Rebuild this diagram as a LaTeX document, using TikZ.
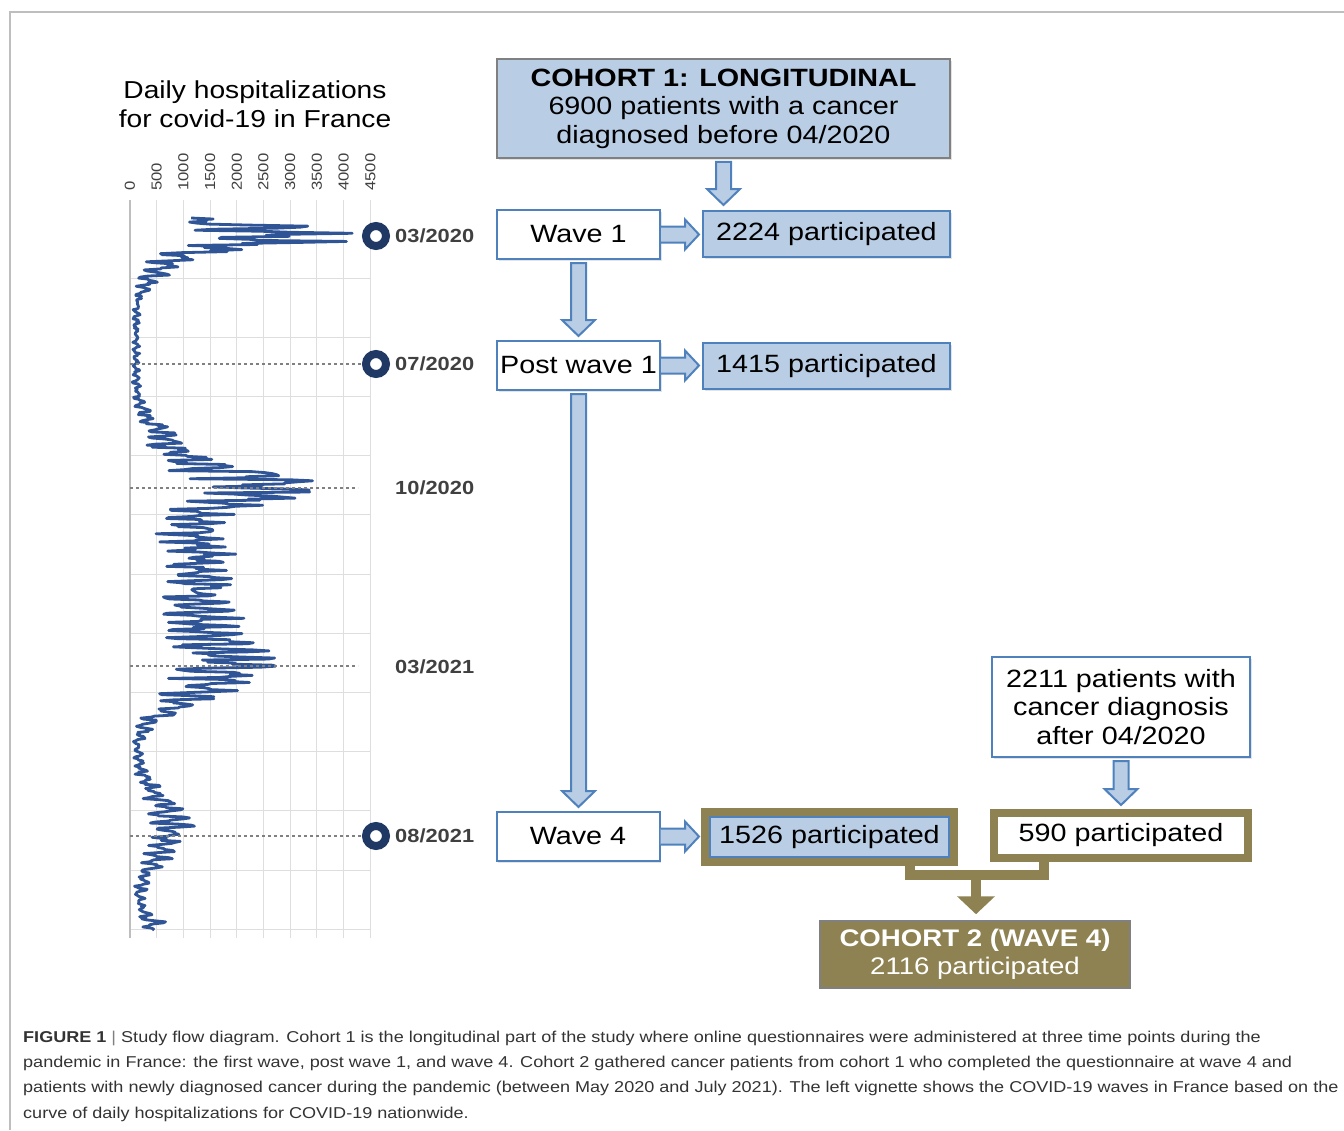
\documentclass[tikz,border=0pt]{standalone}
\usepackage{fontspec}
\setmainfont{Liberation Sans}
\newfontfamily\widesans[FakeStretch=1.15]{Liberation Sans}
\usetikzlibrary{arrows.meta, positioning, calc, shadows}
\definecolor{boxfill}{RGB}{185,205,229}
\definecolor{boxblue}{RGB}{79,129,189}
\definecolor{cohortolive}{RGB}{142,130,82}
\definecolor{ringnavy}{RGB}{31,56,100}
\definecolor{curveblue}{RGB}{47,85,151}
\definecolor{gridgray}{RGB}{222,222,222}
\definecolor{datagray}{RGB}{64,64,64}
\definecolor{capgray}{RGB}{51,51,51}
\definecolor{framegray}{RGB}{190,190,190}

\tikzset{
  softshadow/.style={drop shadow={shadow xshift=1.5pt, shadow yshift=-2pt, opacity=0.22}},
  boxtext/.style={font=\widesans\fontsize{25}{28.5}\selectfont, align=center, inner sep=0pt},
  wavebox/.style={boxtext, draw=boxblue, line width=2pt, fill=white, minimum width=163pt, minimum height=49pt, softshadow},
  countbox/.style={boxtext, draw=boxblue, line width=2pt, fill=boxfill, minimum width=247pt, minimum height=46pt},
  blockarrow/.style={fill=boxfill, draw=boxblue, line width=2pt, line join=miter},
  olivebar/.style={draw=cohortolive, line width=10pt, line join=miter},
  ring/.style={circle, draw=ringnavy, line width=8pt, fill=white, minimum size=20pt, inner sep=0pt, softshadow},
  datelabel/.style={font=\widesans\fontsize{19}{19}\selectfont\bfseries, text=datagray, inner sep=0pt, anchor=west},
  datedash/.style={draw=gray, dashed, line width=1.3pt},
  gridline/.style={draw=gridgray, line width=1pt},
  curveline/.style={draw=curveblue, line width=2.8pt, line join=round},
}

% vertical block arrow between two nodes
\newcommand{\downblock}[2]{%
  \path ($(#1.south)+(0,3)$) coordinate (bs) ($(bs |- #2.north)+(0,-4)$) coordinate (bt);
  \draw[blockarrow] ($(bs)+(-7.5,0)$) -- ($(bt)+(-7.5,-16)$) -- ($(bt)+(-16.5,-16)$) -- (bt)
    -- ($(bt)+(16.5,-16)$) -- ($(bt)+(7.5,-16)$) -- ($(bs)+(7.5,0)$) -- cycle;}
% horizontal block arrow, #3 = gap before the target
\newcommand{\rightblock}[3]{%
  \path (#1.east) coordinate (bs) ($(bs -| #2.west)+(-#3,0)$) coordinate (bt);
  \filldraw[blockarrow] ($(bs)+(0,-8)$) -- ($(bt)+(-14,-8)$) -- ($(bt)+(-14,-15)$) -- (bt)
    -- ($(bt)+(-14,15)$) -- ($(bt)+(-14,8)$) -- ($(bs)+(0,8)$);}

\begin{document}
\begin{tikzpicture}[x=1pt, y=-1pt,
  declare function={
    g(\x,\c,\w)=exp(-min(((\x-\c)/\w)*((\x-\c)/\w),9));
    u(\x)=(\x-600)/115;
    pl(\x)=exp(-min(u(\x)*u(\x)*u(\x)*u(\x)*u(\x)*u(\x),9));
    hosp(\x)=6 + ((\x<236) ? 140*g(\x,236,18) : 95*g(\x,236,10)+68*g(\x,236,35))
      + ((\x<487) ? 110*g(\x,487,22) : 110*g(\x,487,16)) + 30*g(\x,450,35)
      + 62*pl(\x) + 35*g(\x,665,28)
      + ((\x<825) ? 36*g(\x,825,40) : 36*g(\x,825,45)) + 16*g(\x,925,15);
  }]
  \useasboundingbox (0,0) rectangle (1344,1130);

  % outer frame
  \draw[framegray, line width=1.2pt] (10,1130) -- (10,12) -- (1344,12);

  % hospitalization chart
  \node[font=\widesans\fontsize{24.5}{28.5}\selectfont, align=center, inner sep=0pt] (charttitle) at (255,104)
    {Daily hospitalizations\\for covid-19 in France};
  \foreach \k in {1,...,9}
    \draw[gridline] ({130+26.7*\k},200) -- ({130+26.7*\k},938);
  \foreach \k in {0,...,11}
    \draw[gridline] (130,{278+59.2*\k}) -- (370,{278+59.2*\k});
  \draw[framegray, line width=1.5pt] (130,200) -- (130,938);
  \foreach \v [count=\k from 0] in {0,500,...,4500}
    \node[rotate=90, anchor=west, inner sep=0pt, text=datagray,
      font=\widesans\fontsize{14.5}{14.5}\selectfont] (tick\k) at ({130+26.7*\k},191) {\v};

  \pgfmathsetseed{2020}
  \draw[curveline] plot[domain=218:930, samples=700, variable=\t]
    ({130+max(1,hosp(\t)*(1+0.35*sin(45*mod(\t,8))+0.3*rand))}, \t);

  % dates
  \node[ring] (m0320) at (376,236) {};
  \node[ring] (m0720) at (376,364) {};
  \node[ring] (m0821) at (376,836) {};
  \coordinate (e1020) at (358,488);
  \coordinate (e0321) at (358,666);
  \draw[datedash] (130,364) -- (m0720.west);
  \draw[datedash] (130,488) -- (e1020);
  \draw[datedash] (130,666) -- (e0321);
  \draw[datedash] (130,836) -- (m0821.west);
  \node[datelabel, right=5pt of m0320] (d0320) {03/2020};
  \node[datelabel, right=5pt of m0720] (d0720) {07/2020};
  \node[datelabel] (d1020) at (395,488) {10/2020};
  \node[datelabel] (d0321) at (395,667) {03/2021};
  \node[datelabel, right=5pt of m0821] (d0821) {08/2021};

  % cohort 1
  \node[boxtext, draw=gray, line width=1.5pt, fill=boxfill, minimum width=453pt, minimum height=99pt, softshadow]
    (cohort1) at (723.5,108.5) {{\bfseries COHORT 1: LONGITUDINAL}\\6900 patients with a cancer\\diagnosed before 04/2020};
  \node[wavebox] (wave1) at (578.5,234.5) {Wave 1};
  \node[countbox, softshadow] (p2224) at (826.5,234) {2224 participated};
  \node[wavebox] (post1) at (578.5,365.5) {Post wave 1};
  \node[countbox, softshadow] (p1415) at (826.5,366) {1415 participated};
  \node[wavebox] (wave4) at (578,836.5) {Wave 4};
  \node[countbox, minimum width=239pt, minimum height=40pt] (p1526) at (829.5,837) {1526 participated};
  \draw[cohortolive, line width=8pt] ([shift={(-4,-4)}]p1526.north west) rectangle ([shift={(4,4)}]p1526.south east);

  % cohort 2
  \node[boxtext, draw=boxblue, line width=2pt, fill=white, minimum width=258pt, minimum height=100pt, softshadow]
    (new2211) at (1121,707) {2211 patients with\\cancer diagnosis\\after 04/2020};
  \node[boxtext, draw=cohortolive, line width=8pt, fill=white, minimum width=254pt, minimum height=45pt]
    (p590) at (1121,835.5) {590 participated};
  \node[boxtext, font=\widesans\fontsize{24}{28}\selectfont, text=white, draw=gray, line width=1.5pt, fill=cohortolive,
    minimum width=310pt, minimum height=67pt] (cohort2) at (975,954.5) {{\bfseries COHORT 2 (WAVE 4)}\\2116 participated};

  % arrows
  \downblock{cohort1}{wave1}
  \downblock{wave1}{post1}
  \downblock{post1}{wave4}
  \downblock{new2211}{p590}
  \rightblock{wave1}{p2224}{3}
  \rightblock{post1}{p1415}{3}
  \rightblock{wave4}{p1526}{10}
  \coordinate (join) at (976,875);
  \draw[olivebar] ([xshift=80.5]p1526.south) |- (join) -| ([xshift=-77]p590.south);
  \draw[olivebar, -{Triangle[width=37pt, length=18pt]}, shorten >=6pt] (join) -- (join |- cohort2.north);

  % caption
  \node[anchor=north west, inner sep=0pt, align=left, text=capgray,
    font=\widesans\fontsize{15.7}{25.2}\selectfont] (caption) at (23,1031)
    {{\bfseries FIGURE 1} {\color{gray}|} Study flow diagram. Cohort 1 is the longitudinal part of the study where online questionnaires were administered at three time points during the\\
     pandemic in France: the first wave, post wave 1, and wave 4. Cohort 2 gathered cancer patients from cohort 1 who completed the questionnaire at wave 4 and\\
     patients with newly diagnosed cancer during the pandemic (between May 2020 and July 2021). The left vignette shows the COVID-19 waves in France based on the\\
     curve of daily hospitalizations for COVID-19 nationwide.};
\end{tikzpicture}
\end{document}
